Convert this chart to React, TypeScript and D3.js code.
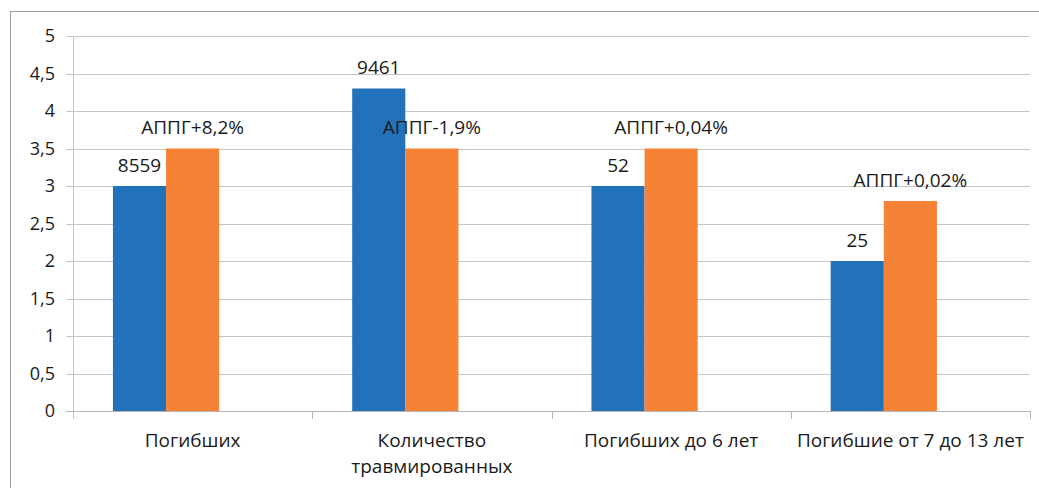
import React from 'react';
import * as d3 from 'd3';

const categories = ['Погибших', 'Количество травмированных', 'Погибших до 6 лет', 'Погибшие от 7 до 13 лет'];
const categoryLines = [['Погибших'], ['Количество', 'травмированных'], ['Погибших до 6 лет'], ['Погибшие от 7 до 13 лет']];
// third series is empty in the source chart, it only reserves space
const seriesNames = ['current', 'appg', 'empty'];
const currentValues = [3, 4.3, 3, 2];
const appgValues = [3.5, 3.5, 3.5, 2.8];
const currentLabels = ['8559', '9461', '52', '25'];
const appgLabels = ['АППГ+8,2%', 'АППГ-1,9%', 'АППГ+0,04%', 'АППГ+0,02%'];
const yTicks = [0, 0.5, 1, 1.5, 2, 2.5, 3, 3.5, 4, 4.5, 5];

const colors = ['#2271bb', '#f58235'];
const font = '"Open Sans", "Liberation Sans", sans-serif';

const App: React.FC = () => {
  const left = 73;
  const right = 1030;
  const top = 36;
  const bottom = 411;

  const y = d3.scaleLinear([0, 5], [bottom, top]);
  const x0 = d3.scaleBand<string>().domain(categories).range([left, right]);
  const bw = x0.bandwidth();
  const x1 = d3.scaleBand<string>().domain(seriesNames).range([bw * 0.167, bw * 0.833]);

  const fmt = (v: number) => String(v).replace('.', ',');

  return (
    <svg width={1039} height={488} style={{ position: 'absolute', left: 0, top: 0 }} fontFamily={font}>
      <rect x={0} y={0} width={1039} height={488} fill="#fff" />
      <line x1={10} y1={11.5} x2={1039} y2={11.5} stroke="#a0a0a0" strokeWidth={1} />
      <line x1={10.5} y1={11} x2={10.5} y2={488} stroke="#a0a0a0" strokeWidth={1} />

      {yTicks.map(t => (
        <g key={t}>
          <line x1={left - 7} x2={right} y1={Math.round(y(t)) + 0.5} y2={Math.round(y(t)) + 0.5}
            stroke={t === 0 ? '#b4b4b4' : '#c6c6c6'} strokeWidth={1} />
          <text x={55} y={y(t)} dy="0.35em" textAnchor="end" fontSize={18} fill="#1a1a1a">{fmt(t)}</text>
        </g>
      ))}
      <line x1={left + 0.5} x2={left + 0.5} y1={top} y2={bottom + 8} stroke="#c6c6c6" />
      {categories.map(c => (
        <line key={c} x1={Math.round(x0(c)! + bw) + 0.5} x2={Math.round(x0(c)! + bw) + 0.5}
          y1={bottom} y2={bottom + 8} stroke="#b4b4b4" />
      ))}

      {categories.map((c, i) => {
        const gx = x0(c)!;
        const vals = [currentValues[i], appgValues[i]];
        const labels = [currentLabels[i], appgLabels[i]];
        return (
          <g key={c}>
            {seriesNames.slice(0, 2).map((s, j) => (
              <rect key={s} x={gx + x1(s)!} y={y(vals[j])} width={x1.bandwidth()}
                height={bottom - y(vals[j])} fill={colors[j]} />
            ))}
            {seriesNames.slice(0, 2).map((s, j) => (
              <text key={s + 'l'} x={gx + x1(s)! + x1.bandwidth() / 2} y={y(vals[j]) - 21} dy="0.35em"
                textAnchor="middle" fontSize={19} fill="#1a1a1a">{labels[j]}</text>
            ))}
            {categoryLines[i].map((line, k) => (
              <text key={line} x={gx + bw / 2} y={440 + k * 26} dy="0.35em" textAnchor="middle"
                fontSize={19} fill="#1a1a1a">{line}</text>
            ))}
          </g>
        );
      })}
    </svg>
  );
};

export default App;
